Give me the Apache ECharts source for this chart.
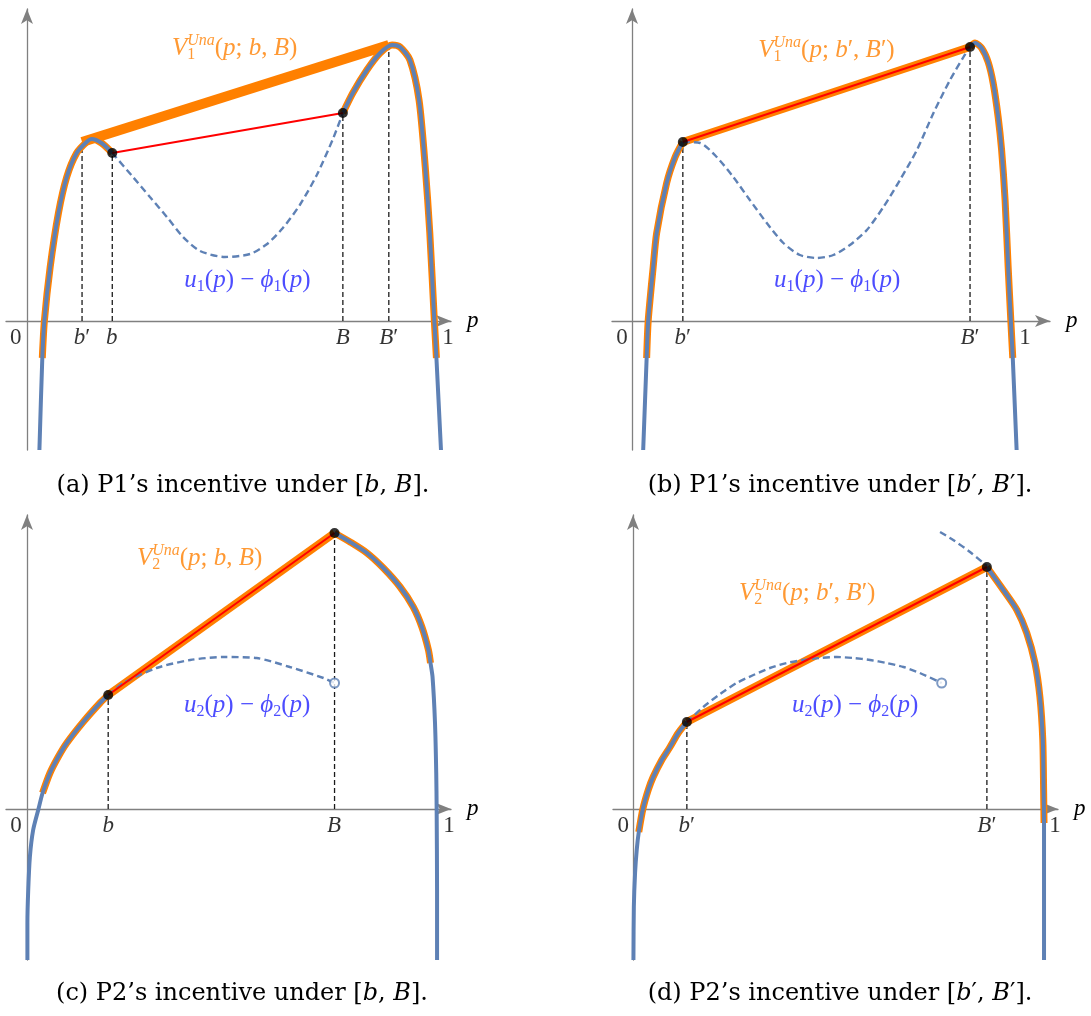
<!DOCTYPE html>
<html>
<head>
<meta charset="utf-8">
<title>Incentives under [b, B] and [b', B']</title>
<script src="https://cdn.jsdelivr.net/npm/echarts@6/dist/echarts.min.js"></script>
<style>
  html, body { margin: 0; padding: 0; background: #fff; }
  #chart { width: 1091px; height: 1016px; }
</style>
</head>
<body>
<div id="chart"></div>
<script>
// values: x = p, y = payoff (axes cross at 0)

// (a) P1 under [b, B]
const aLeft  = [[0.030,-1.29],[0.037,-0.37],[0.042,0],[0.056,0.54],[0.076,1.08],[0.096,1.44],[0.120,1.68],[0.144,1.79],[0.156,1.82],[0.180,1.78],[0.206,1.68]];
const aDash  = [[0.206,1.68],[0.256,1.44],[0.297,1.24],[0.338,1.04],[0.377,0.84],[0.418,0.70],[0.478,0.64],[0.539,0.67],[0.580,0.77],[0.618,0.93],[0.659,1.16],[0.700,1.46],[0.739,1.82],[0.763,2.08]];
const aRight = [[0.763,2.08],[0.787,2.28],[0.821,2.51],[0.853,2.68],[0.882,2.76],[0.901,2.74],[0.925,2.61],[0.947,2.21],[0.962,1.54],[0.973,0.88],[0.984,0],[0.989,-0.37],[1.0,-1.29]];
const aDots  = [[0.206,1.68],[0.763,2.08]];
const aChord = [[0.133,1.79],[0.874,2.76]];
const aCut   = [-0.37, -0.37];
const aTickP = [-0.027, 0.133, 0.205, 0.763, 0.874, 1.017];
const aTickT = ['0', "b'", 'b', 'B', "B'", '1'];
const aDrop  = [[0.133,1.74],[0.206,1.68],[0.763,2.08],[0.874,2.75]];

// (b) P1 under [b', B']
const bLeft  = [[0.029,-1.29],[0.038,-0.37],[0.042,0],[0.055,0.54],[0.064,0.88],[0.090,1.38],[0.112,1.64],[0.132,1.79]];
const bDash  = [[0.132,1.79],[0.177,1.78],[0.220,1.64],[0.263,1.44],[0.306,1.21],[0.350,0.98],[0.393,0.78],[0.436,0.66],[0.480,0.63],[0.523,0.66],[0.566,0.76],[0.610,0.91],[0.653,1.14],[0.696,1.41],[0.740,1.71],[0.783,2.08],[0.826,2.41],[0.861,2.64],[0.878,2.74]];
const bRight = [[0.878,2.74],[0.891,2.78],[0.908,2.73],[0.925,2.59],[0.938,2.38],[0.951,2.04],[0.960,1.71],[0.969,1.21],[0.977,0.54],[0.984,0],[0.989,-0.37],[0.999,-1.29]];
const bDots  = [[0.132,1.79],[0.878,2.74]];
const bCut   = [-0.37, -0.37];
const bTickP = [-0.026, 0.132, 0.878, 1.021];
const bTickT = ['0', "b'", "B'", '1'];
const bDrop  = [[0.132,1.79],[0.878,2.74]];

// (c) P2 under [b, B]
const cLeft  = [[0.001,-1.51],[0.001,-1.14],[0.003,-0.81],[0.007,-0.48],[0.015,-0.21],[0.028,0],[0.038,0.16],[0.056,0.36],[0.076,0.52],[0.097,0.66],[0.137,0.87],[0.178,1.06],[0.198,1.14]];
const cDash  = [[0.198,1.14],[0.235,1.26],[0.316,1.41],[0.398,1.49],[0.479,1.52],[0.560,1.51],[0.641,1.42],[0.723,1.31],[0.750,1.26]];
const cRight = [[0.750,2.76],[0.788,2.67],[0.829,2.56],[0.869,2.41],[0.910,2.22],[0.942,2.02],[0.963,1.82],[0.979,1.59],[0.984,1.46],[0.989,1.32],[0.995,0.86],[0.998,0.36],[0.999,0],[1.0,-0.81],[1.0,-1.51]];
const cDots  = [[0.198,1.14],[0.750,2.76]];
const cOpen  = [[0.750,1.26]];
const cCut   = [0.16, 1.46];
const cTickP = [-0.027, 0.198, 0.749, 1.029];
const cTickT = ['0', 'b', 'B', '1'];
const cDrop  = [[0.198,1.14],[0.750,2.76]];

// (d) P2 under [b', B']
const dLeft  = [[0.001,-1.51],[0.002,-0.98],[0.005,-0.64],[0.009,-0.41],[0.014,-0.23],[0.024,0],[0.037,0.19],[0.049,0.32],[0.070,0.49],[0.090,0.62],[0.110,0.76],[0.131,0.87]];
const dDash  = [[0.131,0.87],[0.171,1.02],[0.212,1.15],[0.252,1.26],[0.293,1.34],[0.333,1.41],[0.374,1.46],[0.414,1.49],[0.455,1.51],[0.496,1.52],[0.536,1.51],[0.577,1.49],[0.617,1.46],[0.658,1.42],[0.698,1.36],[0.751,1.26]];
const dUpper = [[0.747,2.77],[0.779,2.69],[0.820,2.57],[0.861,2.43]];
const dRight = [[0.861,2.42],[0.901,2.19],[0.934,1.99],[0.958,1.76],[0.978,1.46],[0.990,1.12],[0.997,0.69],[0.999,0.19],[1.0,-0.14],[1.0,-0.48],[1.0,-1.51]];
const dDots  = [[0.131,0.87],[0.861,2.42]];
const dOpen  = [[0.751,1.26]];
const dCut   = [-0.23, -0.14];
const dTickP = [-0.024, 0.131, 0.861, 1.027];
const dTickT = ['0', "b'", "B'", '1'];
const dDrop  = [[0.131,0.87],[0.861,2.42]];

const BLUE = '#5e81b5', ORANGE = '#ff8000', RED = '#ff0000', AXIS = '#808080';
const MATH = "'Liberation Serif', 'DejaVu Serif', serif";
const CAPTION = "'DejaVu Serif', 'Liberation Serif', serif";

// grid boxes and axis ranges (layout, not data)
const layout = [
  { grid: { left: 6,   right: 640, top: 9,   bottom: 566 }, x: [-0.0507, 1.0242], y: [-1.29, 3.12] },
  { grid: { left: 612, right: 41,  top: 9,   bottom: 566 }, x: [-0.052, 1.0857],  y: [-1.29, 3.12] },
  { grid: { left: 6,   right: 640, top: 515, bottom: 56 },  x: [-0.0512, 1.034],  y: [-1.51, 2.94] },
  { grid: { left: 613, right: 33,  top: 515, bottom: 56 },  x: [-0.0487, 1.034],  y: [-1.51, 2.94] }
];

function mathRich(color) {
  return {
    i:   { fontFamily: MATH, fontStyle: 'italic', fontSize: 25, lineHeight: 30, color: color },
    r:   { fontFamily: MATH, fontSize: 25, lineHeight: 30, color: color },
    sub: { fontFamily: MATH, fontSize: 16, lineHeight: 14, verticalAlign: 'bottom', color: color },
    su0: { fontFamily: MATH, fontSize: 16, lineHeight: 14, verticalAlign: 'bottom', color: color, width: 0 },
    sup: { fontFamily: MATH, fontStyle: 'italic', fontSize: 16, lineHeight: 14, verticalAlign: 'top', color: color }
  };
}
function tickRich() {
  return {
    i: { fontFamily: MATH, fontStyle: 'italic', fontSize: 23, lineHeight: 26, color: '#000' },
    r: { fontFamily: MATH, fontSize: 23, lineHeight: 26, color: '#000' }
  };
}

// math text -> rich string ("b'" gets an upright prime)
function tickText(t) {
  if (t === '0' || t === '1') return '{r|' + t + '}';
  return '{i|' + t[0] + '}' + (t.length > 1 ? '{r|\u2032}' : '');
}
function vLabel(k, prime) {
  const q = prime ? '\u2032' : '';
  return '{i|V}{su0|' + k + '}{sup|Una}{r|(}{i|p}{r|; }{i|b}{r|' + q + ', }{i|B}{r|' + q + ')}';
}
function uLabel(k) {
  return '{i|u}{sub|' + k + '}{r|(}{i|p}{r|) \u2212 }{i|\u03d5}{sub|' + k + '}{r|(}{i|p}{r|)}';
}

function line(gi, data, color, width, z, type) {
  return {
    type: 'line', xAxisIndex: gi, yAxisIndex: gi, data: data,
    symbol: 'none', smooth: 0.25, silent: true, z: z,
    lineStyle: { color: color, width: width, type: type || 'solid' }
  };
}
function straight(gi, data, color, width, z, type) {
  const s = line(gi, data, color, width, z, type);
  s.smooth = false;
  return s;
}
function textSeries(gi, items) {
  return {
    type: 'scatter', xAxisIndex: gi, yAxisIndex: gi, symbolSize: 0, silent: true, z: 8,
    data: items.map(function (t) {
      return {
        value: t.at,
        label: {
          show: true, position: t.pos, distance: t.dist,
          formatter: function () { return t.text; },
          rich: t.rich
        }
      };
    })
  };
}

function panelSeries(gi, P) {
  const s = [];
  P.drop.forEach(function (d) {
    s.push(straight(gi, [[d[0], 0], d], '#1a1a1a', 1.3, 1, [5, 3]));
  });
  s.push(line(gi, P.left.filter(function (d) { return d[1] >= P.cut[0]; }), ORANGE, 7, 2));
  s.push(line(gi, P.right.filter(function (d) { return d[1] >= P.cut[1]; }), ORANGE, 7, 2));
  s.push(straight(gi, P.chord, ORANGE, P.chordW, 3));
  s.push(line(gi, P.left, BLUE, 4, 4));
  s.push(line(gi, P.right, BLUE, 4, 4));
  s.push(line(gi, P.dash, BLUE, 2.4, 4, [7, 4]));
  if (P.upper) s.push(line(gi, P.upper, BLUE, 2.4, 4, [7, 4]));
  s.push(straight(gi, P.dots, RED, 2, 5));
  s.push({
    type: 'scatter', xAxisIndex: gi, yAxisIndex: gi, data: P.dots, symbolSize: 10,
    itemStyle: { color: '#000' }, silent: true, z: 6
  });
  if (P.open) s.push({
    type: 'scatter', xAxisIndex: gi, yAxisIndex: gi, data: P.open, symbolSize: 9,
    itemStyle: { color: '#fff', borderColor: BLUE, borderWidth: 2 }, silent: true, z: 6
  });
  s.push(textSeries(gi, P.tickP.map(function (p, i) {
    return { at: [p, 0], pos: 'bottom', dist: 4, text: tickText(P.tickT[i]), rich: tickRich() };
  })));
  s.push(textSeries(gi, [
    { at: P.vAt, pos: 'right', dist: 0, text: vLabel(P.k, P.prime), rich: mathRich(ORANGE) },
    { at: P.uAt, pos: 'right', dist: 0, text: uLabel(P.k), rich: mathRich('#2020ff') }
  ]));
  return s;
}

const panels = [
  { left: aLeft, dash: aDash, right: aRight, dots: aDots, chord: aChord, chordW: 10, cut: aCut,
    tickP: aTickP, tickT: aTickT, drop: aDrop, k: 1, prime: false, vAt: [0.350, 2.73], uAt: [0.380, 0.41] },
  { left: bLeft, dash: bDash, right: bRight, dots: bDots, chord: bDots, chordW: 8, cut: bCut,
    tickP: bTickP, tickT: bTickT, drop: bDrop, k: 1, prime: true, vAt: [0.328, 2.71], uAt: [0.369, 0.41] },
  { left: cLeft, dash: cDash, right: cRight, dots: cDots, chord: cDots, chordW: 8, cut: cCut, open: cOpen,
    tickP: cTickP, tickT: cTickT, drop: cDrop, k: 2, prime: false, vAt: [0.268, 2.51], uAt: [0.383, 1.04] },
  { left: dLeft, dash: dDash, upper: dUpper, right: dRight, dots: dDots, chord: dDots, chordW: 8, cut: dCut, open: dOpen,
    tickP: dTickP, tickT: dTickT, drop: dDrop, k: 2, prime: true, vAt: [0.258, 2.16], uAt: [0.387, 1.04] }
];

const axisLine = {
  onZero: true, symbol: ['none', 'arrow'], symbolSize: [9, 15],
  lineStyle: { color: AXIS, width: 1.3 }
};

const option = {
  animation: false,
  backgroundColor: '#fff',
  grid: layout.map(function (L) { return Object.assign({ outerBoundsMode: 'none', containLabel: false }, L.grid); }),
  xAxis: layout.map(function (L, i) {
    return {
      type: 'value', gridIndex: i, min: L.x[0], max: L.x[1],
      axisLine: axisLine, axisTick: { show: false }, axisLabel: { show: false }, splitLine: { show: false },
      name: 'p', nameLocation: 'end', nameGap: 16,
      nameTextStyle: { fontFamily: MATH, fontStyle: 'italic', fontSize: 23, color: '#000' }
    };
  }),
  yAxis: layout.map(function (L, i) {
    return {
      type: 'value', gridIndex: i, min: L.y[0], max: L.y[1],
      axisLine: axisLine, axisTick: { show: false }, axisLabel: { show: false }, splitLine: { show: false }
    };
  }),
  series: panels.reduce(function (acc, P, i) { return acc.concat(panelSeries(i, P)); }, []),
  graphic: [
    ['(a) P1\u2019s incentive under [{i|b}, {i|B}].', 243, 486],
    ['(b) P1\u2019s incentive under [{i|b}\u2032, {i|B}\u2032].', 840, 486],
    ['(c) P2\u2019s incentive under [{i|b}, {i|B}].', 242, 994],
    ['(d) P2\u2019s incentive under [{i|b}\u2032, {i|B}\u2032].', 840, 994]
  ].map(function (c) {
    return {
      type: 'text', x: c[1], y: c[2], silent: true,
      style: {
        text: c[0], fill: '#000', fontFamily: CAPTION, fontSize: 24,
        align: 'center', verticalAlign: 'middle',
        rich: { i: { fontFamily: CAPTION, fontStyle: 'italic', fontSize: 24 } }
      }
    };
  })
};

const chart = echarts.init(document.getElementById('chart'), null, { renderer: 'canvas' });
chart.setOption(option);
</script>
</body>
</html>
